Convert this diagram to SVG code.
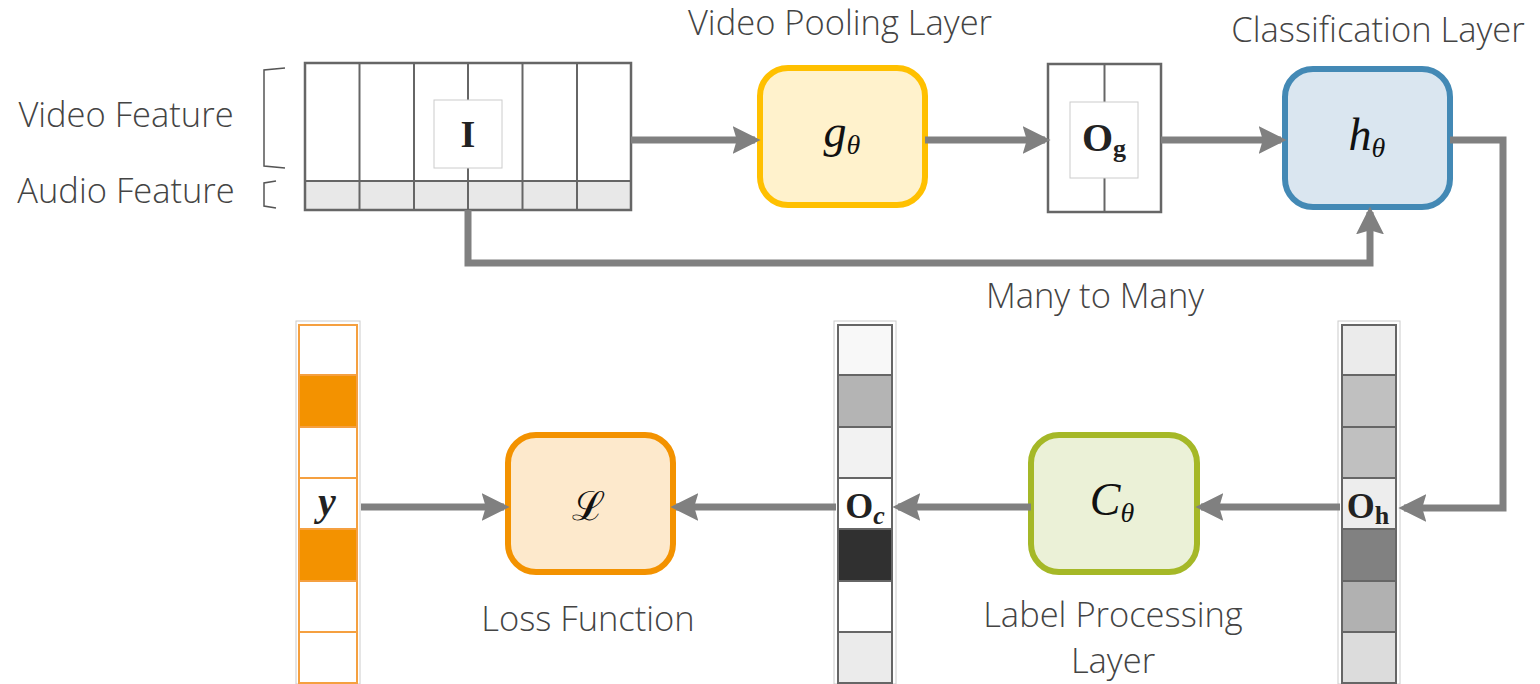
<svg xmlns="http://www.w3.org/2000/svg" width="1540" height="684" viewBox="0 0 1540 684">
<style>
.lbl{font-family:"Open Sans","Noto Sans",sans-serif;font-size:34.5px;font-weight:300;fill:#444;text-anchor:middle}
.math{font-family:"Liberation Serif","DejaVu Serif",serif;font-style:italic;font-size:46px;fill:#111;text-anchor:middle}
.bold{font-family:"Liberation Serif","DejaVu Serif",serif;font-weight:bold;font-size:40px;fill:#222;text-anchor:middle}
.sub{font-size:28px}
.bsub{font-size:26px}
.cell{stroke:#666;stroke-width:2}
.ocell{stroke:#F5A040;stroke-width:2}
.conn{fill:none;stroke:#808080;stroke-width:7}
.br{fill:none;stroke:#555;stroke-width:1.5}
</style>
<defs>
<marker id="ah" markerWidth="4" markerHeight="4" refX="3.2" refY="2" orient="auto" markerUnits="strokeWidth">
<path d="M0,0 L4,2 L0,4 L0.6,2 Z" fill="#808080"/>
</marker>
</defs>

<g id="labels">
<text class="lbl" x="126" y="127">Video Feature</text>
<text class="lbl" x="126" y="203">Audio Feature</text>
<text class="lbl" x="840" y="35">Video Pooling Layer</text>
<text class="lbl" x="1378" y="42">Classification Layer</text>
<text class="lbl" x="1095" y="308">Many to Many</text>
<text class="lbl" x="588" y="631">Loss Function</text>
<text class="lbl" x="1113" y="627">Label Processing</text>
<text class="lbl" x="1113" y="673">Layer</text>
</g>

<g id="brackets">
<path class="br" d="M285,68 L264,70 L264,166 L285,168"/>
<path class="br" d="M276,181 L264,183 L264,206 L276,208"/>
</g>

<g id="feature">
<rect x="305" y="181" width="326" height="29" fill="#E8E8E8"/>
<rect x="305" y="63" width="326" height="147" fill="none" stroke="#666" stroke-width="2.5"/>
<line x1="305" y1="181" x2="631" y2="181" stroke="#666" stroke-width="2"/>
<g stroke="#666" stroke-width="2">
<line x1="359.5" y1="63" x2="359.5" y2="210"/>
<line x1="414" y1="63" x2="414" y2="210"/>
<line x1="468" y1="63" x2="468" y2="210"/>
<line x1="522.5" y1="63" x2="522.5" y2="210"/>
<line x1="577" y1="63" x2="577" y2="210"/>
</g>
<rect x="434" y="100" width="68" height="68" fill="#fff" stroke="#ccc" stroke-width="1"/>
<text class="bold" x="468" y="147" style="font-size:38px">I</text>
</g>

<g id="g_node">
<rect x="760" y="68" width="165" height="137" rx="28" fill="#FFF2CC" stroke="#FFC000" stroke-width="6"/>
<text class="math" x="842" y="147">g<tspan class="sub" dy="7">θ</tspan></text>
</g>

<g id="og">
<rect x="1048" y="64" width="113" height="148" fill="#fff" stroke="#666" stroke-width="2.5"/>
<line x1="1104.5" y1="64" x2="1104.5" y2="212" stroke="#666" stroke-width="2"/>
<rect x="1070" y="102" width="68" height="76" fill="#fff" stroke="#ccc" stroke-width="1"/>
<text class="bold" x="1104" y="151">O<tspan class="bsub" dy="6">g</tspan></text>
</g>

<g id="h_node">
<rect x="1285" y="69" width="165" height="138" rx="28" fill="#DAE6F0" stroke="#4389B5" stroke-width="6"/>
<text class="math" x="1367" y="150">h<tspan class="sub" dy="7">θ</tspan></text>
</g>

<g id="oh">
<rect x="1338" y="321" width="62" height="363" fill="none" stroke="#ccc" stroke-width="1"/>
<rect class="cell" x="1342" y="325" width="54" height="50" fill="#EBEBEB"/>
<rect class="cell" x="1342" y="375" width="54" height="52" fill="#C0C0C0"/>
<rect class="cell" x="1342" y="427" width="54" height="51" fill="#C0C0C0"/>
<rect class="cell" x="1342" y="478" width="54" height="51" fill="#EDEDED"/>
<rect class="cell" x="1342" y="529" width="54" height="52" fill="#818181"/>
<rect class="cell" x="1342" y="581" width="54" height="51" fill="#B1B1B1"/>
<rect class="cell" x="1342" y="632" width="54" height="51" fill="#DCDCDC"/>
<text class="bold" x="1368" y="518" style="font-size:36px">O<tspan class="bsub" dy="6">h</tspan></text>
</g>

<g id="c_node">
<rect x="1031" y="435" width="166" height="137" rx="28" fill="#EBF1D7" stroke="#A5B827" stroke-width="6"/>
<text class="math" x="1112" y="515">C<tspan class="sub" dy="7">θ</tspan></text>
</g>

<g id="oc">
<rect x="834" y="321" width="62" height="363" fill="none" stroke="#ccc" stroke-width="1"/>
<rect class="cell" x="838" y="325" width="54" height="50" fill="#F8F8F8"/>
<rect class="cell" x="838" y="375" width="54" height="52" fill="#B4B4B4"/>
<rect class="cell" x="838" y="427" width="54" height="51" fill="#F2F2F2"/>
<rect class="cell" x="838" y="478" width="54" height="51" fill="#FFFFFF"/>
<rect class="cell" x="838" y="529" width="54" height="52" fill="#303030"/>
<rect class="cell" x="838" y="581" width="54" height="51" fill="#FFFFFF"/>
<rect class="cell" x="838" y="632" width="54" height="51" fill="#EBEBEB"/>
<text class="bold" x="865" y="518" style="font-size:36px">O<tspan class="bsub" dy="6" style="font-style:italic">c</tspan></text>
</g>

<g id="l_node">
<rect x="508" y="435" width="165" height="137" rx="28" fill="#FDE9CC" stroke="#F39200" stroke-width="6"/>
<text x="588" y="520" font-family="DejaVu Serif,serif" font-size="40" text-anchor="middle" fill="#111">ℒ</text>
</g>

<g id="y_vec">
<rect x="296" y="321" width="64" height="363" fill="none" stroke="#ccc" stroke-width="1"/>
<rect class="ocell" x="299" y="325" width="58" height="50" fill="#FFFFFF"/>
<rect class="ocell" x="299" y="375" width="58" height="52" fill="#F39200"/>
<rect class="ocell" x="299" y="427" width="58" height="51" fill="#FFFFFF"/>
<rect class="ocell" x="299" y="478" width="58" height="51" fill="#FFFFFF"/>
<rect class="ocell" x="299" y="529" width="58" height="52" fill="#F39200"/>
<rect class="ocell" x="299" y="581" width="58" height="51" fill="#FFFFFF"/>
<rect class="ocell" x="299" y="632" width="58" height="51" fill="#FFFFFF"/>
<text x="327" y="515" font-family="Liberation Serif,serif" font-style="italic" font-weight="bold" font-size="40" text-anchor="middle" fill="#222">y</text>
</g>

<g id="connectors">
<path class="conn" d="M631,140 L755,140" marker-end="url(#ah)"/>
<path class="conn" d="M925,140 L1045,140" marker-end="url(#ah)"/>
<path class="conn" d="M1161,140 L1281,140" marker-end="url(#ah)"/>
<path class="conn" d="M468,210 L468,263 L1370,263 L1370,212" marker-end="url(#ah)"/>
<path class="conn" d="M1450,140 L1503,140 L1503,508 L1404,508" marker-end="url(#ah)"/>
<path class="conn" d="M1340,507 L1201,507" marker-end="url(#ah)"/>
<path class="conn" d="M1031,507 L898,507" marker-end="url(#ah)"/>
<path class="conn" d="M836,507 L676,507" marker-end="url(#ah)"/>
<path class="conn" d="M361,507 L504,507" marker-end="url(#ah)"/>
</g>
</svg>
